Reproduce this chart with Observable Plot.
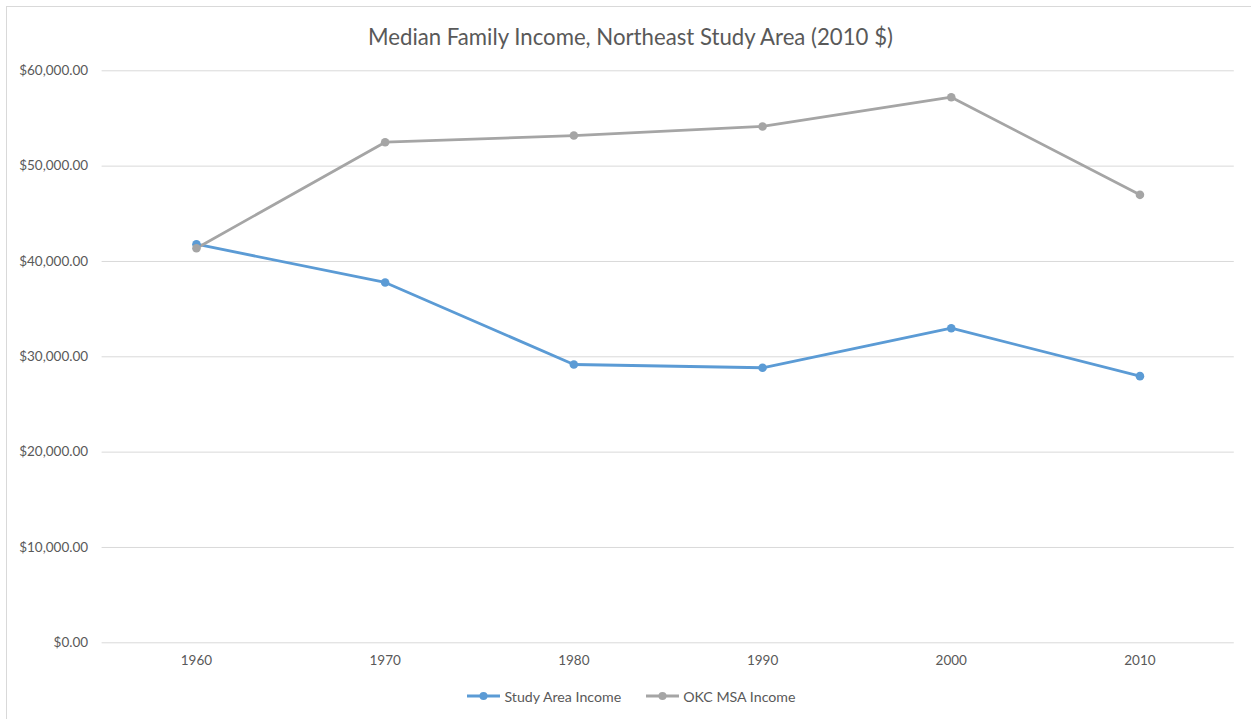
<!DOCTYPE html>
<html>
<head>
<meta charset="utf-8">
<script src="https://cdn.jsdelivr.net/npm/d3@7"></script>
<script src="https://cdn.jsdelivr.net/npm/@observablehq/plot@0.6"></script>
<style>
  html, body { margin: 0; padding: 0; background: #fff; }
  #wrap { position: relative; width: 1251px; height: 719px; overflow: hidden; font-family: Lato, "Open Sans", sans-serif; }
  #frame { position: absolute; left: 6px; top: 6px; width: 1260px; height: 730px; border: 1.5px solid #d9d9d9; box-sizing: border-box; }
  #title { position: absolute; left: 0; top: 0; width: 1251px; height: 60px; line-height: 74px; text-align: center; font-size: 22.2px; color: #595959; padding-left: 10px; box-sizing: border-box; }
  #chart { position: absolute; left: 0; top: 60px; }
  #legend { position: absolute; left: 0; top: 684px; width: 1251px; height: 24px; display: flex; justify-content: center; align-items: center; gap: 25px; font-size: 14.2px; color: #595959; padding-left: 12px; box-sizing: border-box; }
  .item { display: flex; align-items: center; gap: 4px; }
</style>
</head>
<body>
<div id="wrap">
  <div id="frame"></div>
  <div id="title">Median Family Income, Northeast Study Area (2010 $)</div>
  <div id="chart"></div>
  <div id="legend"></div>
</div>
<script>
const years = [1960, 1970, 1980, 1990, 2000, 2010];
const studyAreaIncome = [41810, 37800, 29190, 28850, 33000, 27970];
const okcMsaIncome = [41390, 52510, 53210, 54160, 57230, 46990];
const seriesNames = ["Study Area Income", "OKC MSA Income"];
const seriesColors = ["#5b9bd5", "#a5a5a5"];
const yTicks = [0, 10000, 20000, 30000, 40000, 50000, 60000];

const rows = [];
seriesNames.forEach((name, s) => {
  const vals = s === 0 ? studyAreaIncome : okcMsaIncome;
  years.forEach((y, i) => rows.push({year: y, value: vals[i], series: name}));
});

const fmt = d3.format("$,.2f");

const chart = Plot.plot({
  width: 1251,
  height: 615,
  marginTop: 10.3,
  marginBottom: 32.7,
  marginLeft: 101.6,
  marginRight: 17.2,
  style: { fontFamily: "Lato, 'Open Sans', sans-serif", fontSize: "13.5px", color: "#595959", background: "transparent" },
  x: { type: "point", domain: years, padding: 0.5, round: false, label: null },
  y: { domain: [0, 60000], label: null },
  color: { domain: seriesNames, range: seriesColors },
  marks: [
    Plot.gridY(yTicks, { stroke: "#d9d9d9", strokeOpacity: 1, strokeWidth: 1 }),
    Plot.line(rows, { x: "year", y: "value", z: "series", stroke: "series", strokeWidth: 2.8, curve: "linear" }),
    Plot.dot(rows, { x: "year", y: "value", fill: "series", r: 4.3 }),
    Plot.axisX({ tickSize: 0, tickPadding: 13, tickFormat: d3.format("d"), fill: "#595959" }),
    Plot.axisY({ ticks: yTicks, tickFormat: fmt, tickSize: 0, tickPadding: 14, fill: "#595959" })
  ]
});
document.getElementById("chart").appendChild(chart);

const legend = document.getElementById("legend");
seriesNames.forEach((name, i) => {
  const item = document.createElement("div");
  item.className = "item";
  item.innerHTML = `<svg width="33" height="10"><line x1="0" y1="5" x2="33" y2="5" stroke="${seriesColors[i]}" stroke-width="2.8"/><circle cx="16.5" cy="5" r="4" fill="${seriesColors[i]}"/></svg><span>${name}</span>`;
  legend.appendChild(item);
});
</script>
</body>
</html>
